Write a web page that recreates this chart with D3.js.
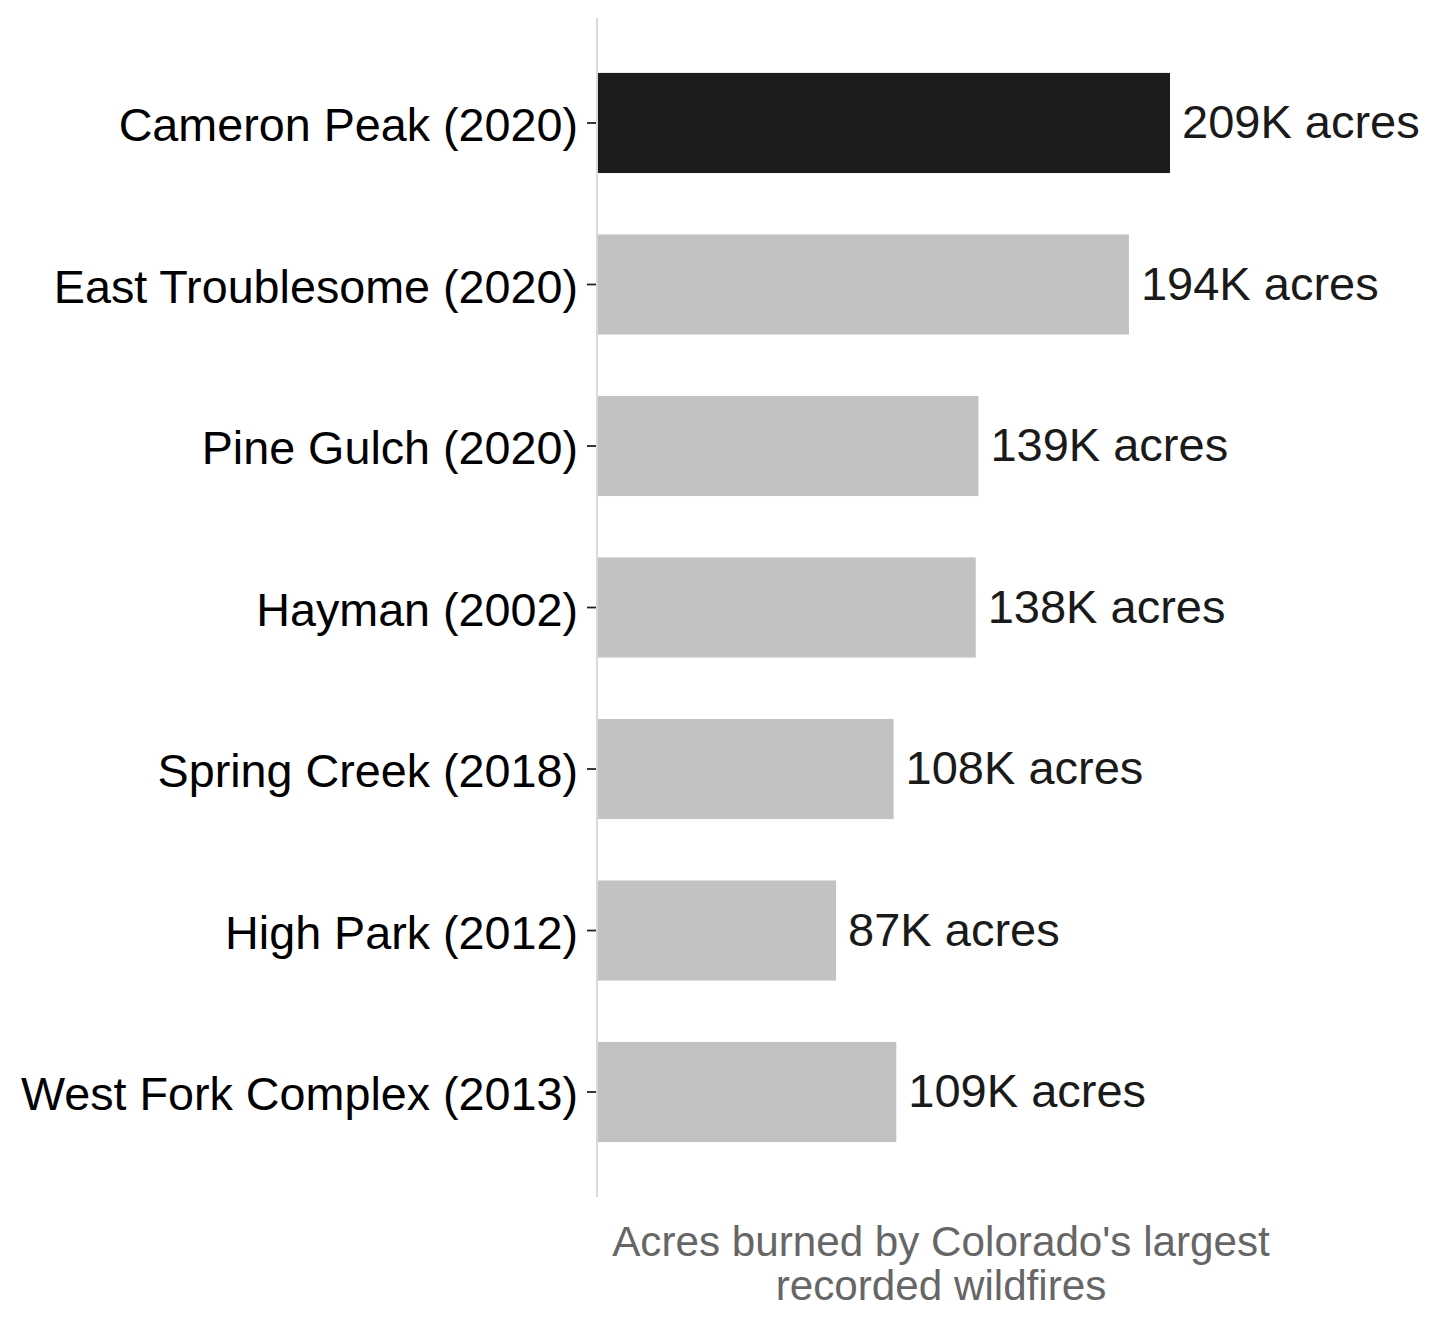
<!DOCTYPE html>
<html>
<head>
<meta charset="utf-8">
<script src="https://cdn.jsdelivr.net/npm/d3@7"></script>
<style>
  html, body { margin: 0; padding: 0; background: #ffffff; }
  svg { display: block; }
  text { font-family: "Liberation Sans", Arial, Helvetica, sans-serif; }
</style>
</head>
<body>
<svg id="chart" width="1439" height="1327"></svg>
<script>
const fires = ["Cameron Peak (2020)", "East Troublesome (2020)", "Pine Gulch (2020)", "Hayman (2002)", "Spring Creek (2018)", "High Park (2012)", "West Fork Complex (2013)"];
const acresK = [209, 194, 139, 138, 108, 87, 109];
const highlight = [true, false, false, false, false, false, false];
const axisTitleLines = ["Acres burned by Colorado's largest", "recorded wildfires"];

const svg = d3.select("#chart");
const plotLeft = 598, plotTop = 18, plotBottom = 1197;

const x = d3.scaleLinear().domain([0, 209]).range([plotLeft, 1170]);
const y = d3.scaleBand().domain(fires).range([plotTop, plotBottom]).paddingInner(0.38).paddingOuter(0.34);

const data = fires.map((f, i) => ({ name: f, v: acresK[i], hi: highlight[i] }));

// y axis
const yAxis = d3.axisLeft(y).tickSize(10).tickPadding(9);
const gy = svg.append("g").attr("transform", `translate(${plotLeft - 1},0)`).call(yAxis);
gy.select(".domain").remove();
gy.selectAll(".tick line").attr("stroke", "#222").attr("stroke-width", 1.8);
gy.selectAll(".tick text")
  .attr("font-size", 46.7)
  .attr("fill", "#000")
  .attr("font-family", "\"Liberation Sans\", Arial, sans-serif")
  .attr("dy", "0.39em");

// axis line
svg.append("line")
  .attr("x1", plotLeft - 1).attr("x2", plotLeft - 1)
  .attr("y1", plotTop).attr("y2", plotBottom)
  .attr("stroke", "#d9d9d9").attr("stroke-width", 2);

// bars
svg.append("g").selectAll("rect").data(data).join("rect")
  .attr("x", x(0))
  .attr("y", d => y(d.name))
  .attr("width", d => x(d.v) - x(0))
  .attr("height", y.bandwidth())
  .attr("fill", d => d.hi ? "#1c1c1c" : "#c2c2c2");

// value labels
svg.append("g").selectAll("text").data(data).join("text")
  .attr("x", d => x(d.v) + 12)
  .attr("y", d => y(d.name) + y.bandwidth() / 2)
  .attr("dy", "0.32em")
  .attr("font-size", 47)
  .attr("fill", "#1a1a1a")
  .text(d => `${d.v}K acres`);

// axis title
const title = svg.append("text")
  .attr("x", 941)
  .attr("y", 1256)
  .attr("text-anchor", "middle")
  .attr("font-size", 42.2)
  .attr("fill", "#666666");
title.selectAll("tspan").data(axisTitleLines).join("tspan")
  .attr("x", 941)
  .attr("dy", (d, i) => i === 0 ? 0 : 44)
  .text(d => d);
</script>
</body>
</html>
